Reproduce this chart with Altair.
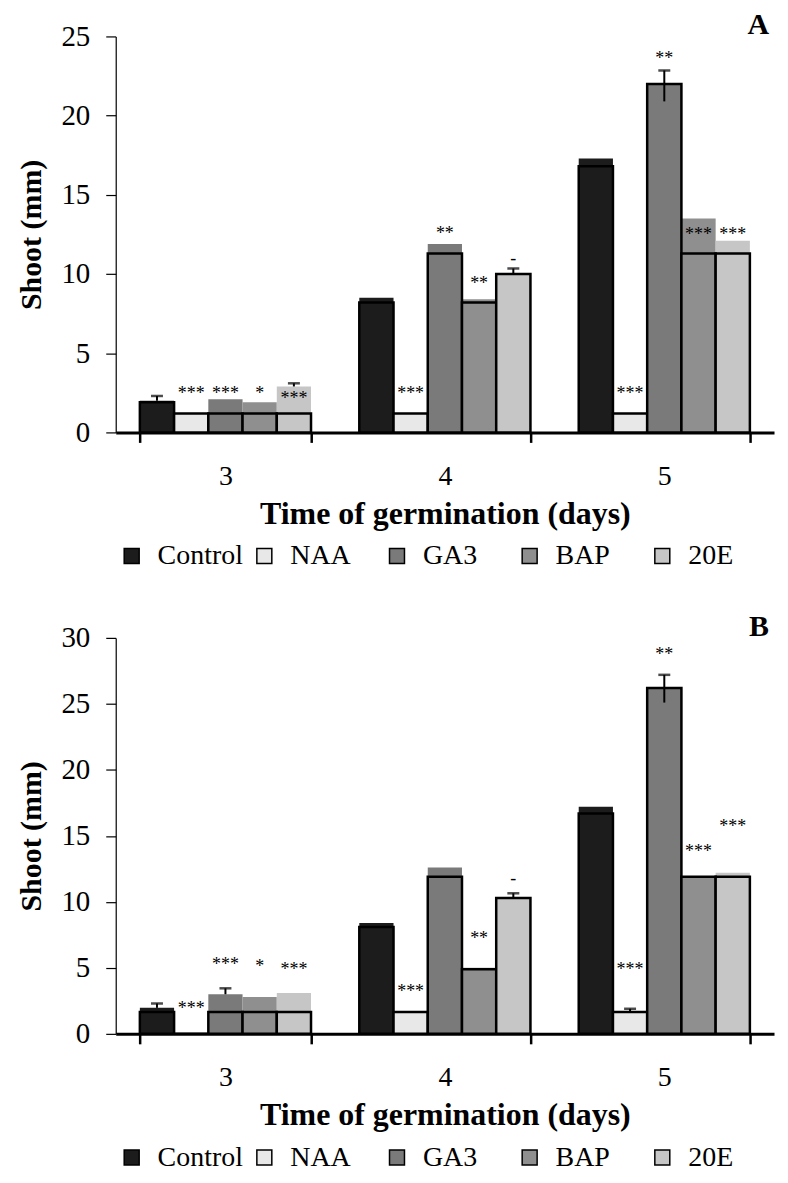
import altair as alt
import pandas as pd

days = ["3", "4", "5"]
series = ["Control", "NAA", "GA3", "BAP", "20E"]
fills = ["#1c1c1c", "#e8e8e8", "#7a7a7a", "#8f8f8f", "#c6c6c6"]

# Panel A values (mm)
A_front = {"Control": [1.9, 8.2, 16.8], "NAA": [1.2, 1.2, 1.2], "GA3": [1.2, 11.3, 22.0],
           "BAP": [1.2, 8.2, 11.3], "20E": [1.2, 10.0, 11.3]}
A_back = {"Control": [2.0, 8.5, 17.3], "NAA": [1.2, 1.2, 1.2], "GA3": [2.1, 11.9, 22.0],
          "BAP": [1.9, 8.4, 13.5], "20E": [2.9, 10.0, 12.1]}
A_err_lo = {"Control": [2.0, None, None], "NAA": [None, None, None], "GA3": [None, None, 20.9],
            "BAP": [None, None, None], "20E": [2.9, 10.0, None]}
A_err_hi = {"Control": [2.3, None, None], "NAA": [None, None, None], "GA3": [None, None, 22.85],
            "BAP": [None, None, None], "20E": [3.1, 10.35, None]}
A_star = {"Control": ["", "", ""], "NAA": ["***", "***", "***"], "GA3": ["***", "**", "**"],
          "BAP": ["*", "**", "***"], "20E": ["***", "-", "***"]}
A_star_y = {"Control": [0, 0, 0], "NAA": [2.45, 2.45, 2.45], "GA3": [2.45, 12.5, 23.6],
            "BAP": [2.45, 9.4, 12.45], "20E": [2.1, 10.95, 12.45]}

# Panel B values (mm)
B_front = {"Control": [1.65, 8.1, 16.7], "NAA": [0.0, 1.65, 1.65], "GA3": [1.65, 11.9, 26.2],
           "BAP": [1.65, 4.9, 11.9], "20E": [1.65, 10.3, 11.9]}
B_back = {"Control": [1.97, 8.4, 17.2], "NAA": [0.0, 1.65, 1.65], "GA3": [3.0, 12.6, 26.2],
          "BAP": [2.8, 5.0, 11.9], "20E": [3.1, 10.3, 12.2]}
B_err_lo = {"Control": [1.97, None, None], "NAA": [None, None, 1.65], "GA3": [3.0, None, 25.1],
            "BAP": [None, None, None], "20E": [None, 10.3, None]}
B_err_hi = {"Control": [2.3, None, None], "NAA": [None, None, 1.9], "GA3": [3.45, None, 27.2],
            "BAP": [None, None, None], "20E": [None, 10.65, None]}
B_star = {"Control": ["", "", ""], "NAA": ["***", "***", "***"], "GA3": ["***", "", "**"],
          "BAP": ["*", "**", "***"], "20E": ["***", "-", "***"]}
B_star_y = {"Control": [0, 0, 0], "NAA": [1.9, 3.15, 4.8], "GA3": [5.2, 0, 28.7],
            "BAP": [5.05, 7.2, 13.8], "20E": [4.8, 11.7, 15.7]}

SERIF = "Liberation Serif"


def table(front, back, elo, ehi, star, stary):
    rows = []
    for s in series:
        for i, d in enumerate(days):
            rows.append({"day": d, "series": s, "front": front[s][i], "back": back[s][i],
                         "err_lo": elo[s][i], "err_hi": ehi[s][i],
                         "star": star[s][i], "star_y": stary[s][i]})
    return pd.DataFrame(rows)


def panel(df, ymax, letter, legend_y):
    yscale = alt.Scale(domain=[0, ymax], nice=False)
    yaxis = alt.Axis(title="Shoot (mm)", values=list(range(0, ymax + 1, 5)), grid=False,
                     domainColor="black", domainWidth=1.2, tickColor="black", tickSize=10,
                     tickWidth=1.2, labelFont=SERIF, labelFontSize=29, labelColor="black",
                     labelPadding=16, titleFont=SERIF, titleFontSize=30, titleFontWeight="bold",
                     titleColor="black", titlePadding=14)
    xaxis = alt.Axis(title="Time of germination (days)", labelAngle=0, grid=False,
                     tickBand="extent", domainColor="black", domainWidth=3, tickColor="black",
                     tickSize=10, tickWidth=2.5, labelFont=SERIF, labelFontSize=28,
                     labelColor="black", labelPadding=20, titleFont=SERIF, titleFontSize=32,
                     titleFontWeight="bold", titleColor="black", titlePadding=8)
    color = alt.Color("series:N", sort=series, scale=alt.Scale(domain=series, range=fills),
                      legend=alt.Legend(title=None, orient="none", legendX=2, legendY=legend_y,
                                        direction="horizontal", columns=5, gridAlign="all",
                                        symbolType="square", symbolSize=225,
                                        symbolStrokeColor="black", symbolStrokeWidth=1.5,
                                        symbolOpacity=1, labelFont=SERIF, labelFontSize=28,
                                        labelColor="black", columnPadding=7, labelOffset=12,
                                        labelLimit=0))
    base = alt.Chart(df).encode(
        x=alt.X("day:N", sort=days, scale=alt.Scale(paddingInner=0.22, paddingOuter=0.11),
                axis=xaxis),
        xOffset=alt.XOffset("series:N", sort=series,
                            scale=alt.Scale(paddingInner=0, paddingOuter=0)),
    )
    back = base.mark_bar(strokeWidth=0).encode(
        y=alt.Y("back:Q", scale=yscale, axis=yaxis), color=color)
    front = base.mark_bar(stroke="black", strokeWidth=2.5).encode(
        y=alt.Y("front:Q", scale=yscale, axis=yaxis), color=color)
    err = base.transform_filter("datum.err_hi != null").mark_rule(
        color="black", strokeWidth=2).encode(
        y=alt.Y("err_lo:Q", scale=yscale, axis=yaxis), y2="err_hi:Q")
    cap = base.transform_filter("datum.err_hi != null").mark_tick(
        color="black", thickness=2.5, size=12, orient="horizontal").encode(
        y=alt.Y("err_hi:Q", scale=yscale, axis=yaxis))
    stars = base.transform_filter("datum.star != ''").mark_text(
        font=SERIF, fontSize=18, color="black", baseline="middle").encode(
        y=alt.Y("star_y:Q", scale=yscale, axis=yaxis), text="star:N")
    return alt.layer(back, front, err, cap, stars).properties(
        width=660, height=397,
        title=alt.TitleParams(letter, anchor="end", frame="group", dx=-5, fontSize=30,
                              font=SERIF, fontWeight="bold", color="black", offset=-18),
    )


dfA = table(A_front, A_back, A_err_lo, A_err_hi, A_star, A_star_y)
dfB = table(B_front, B_back, B_err_lo, B_err_hi, B_star, B_star_y)

chart = alt.vconcat(panel(dfA, 25, "A", 507), panel(dfB, 30, "B", 507), spacing=42).resolve_scale(
    color="independent", y="independent"
).properties(
    padding={"left": 9, "top": 1, "right": 6, "bottom": 0},
    background="white",
).configure_view(strokeWidth=0, stroke="transparent")

chart.save("out.html", embed_options={"renderer": "svg", "actions": False})
